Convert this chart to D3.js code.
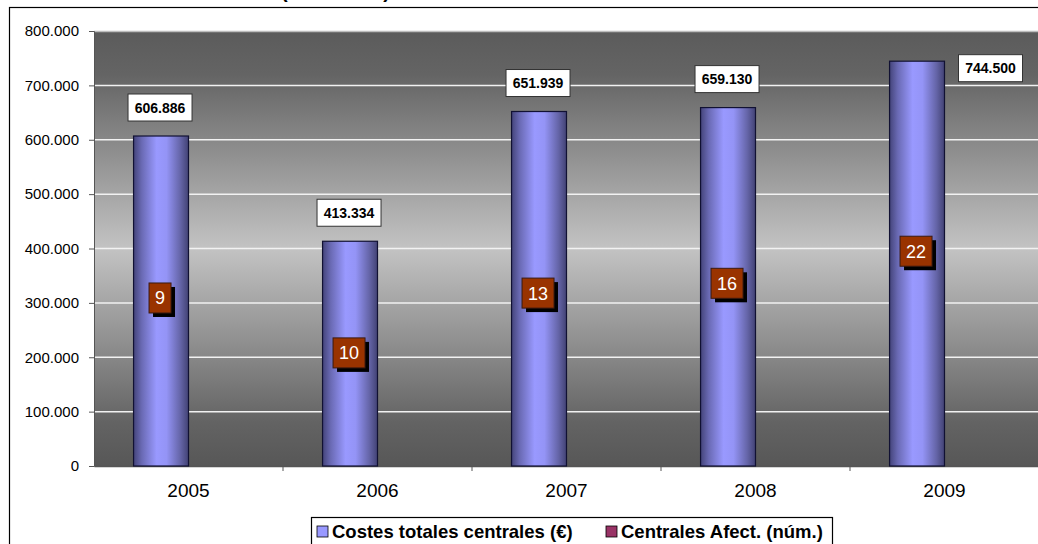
<!DOCTYPE html>
<html>
<head>
<meta charset="utf-8">
<script src="https://cdn.jsdelivr.net/npm/d3@7"></script>
<style>
  body { margin: 0; background: #fff; }
  svg { display: block; font-family: "Liberation Sans", Arial, sans-serif; }
</style>
</head>
<body>
<svg id="chart" width="1038" height="544"></svg>
<script>
// chart data
var years = ["2005", "2006", "2007", "2008", "2009"];
var costes = [606886, 413334, 651939, 659130, 744500];
var centrales = [9, 10, 13, 16, 22];
// where the labels of the second series sit, in axis units
var centralesLabelAt = [309000, 208000, 318000, 336000, 395000];
var yTicks = [0, 100000, 200000, 300000, 400000, 500000, 600000, 700000, 800000];
var seriesNames = ["Costes totales centrales (€)", "Centrales Afect. (núm.)"];

var svg = d3.select("#chart");
var plot = { left: 94, right: 1039, top: 31, bottom: 466 };

// number format with dots as thousands separator
var fmt = d3.formatLocale({ decimal: ",", thousands: ".", grouping: [3], currency: ["", "€"] }).format(",d");

var x = d3.scaleBand().domain(years).range([plot.left, plot.right]);
var xInner = d3.scaleBand().domain([0, 1]).range([0, x.bandwidth()]).paddingOuter(0.72);
var y = d3.scaleLinear().domain([0, 800000]).range([plot.bottom, plot.top]);

var defs = svg.append("defs");

// gray plot background
var bg = defs.append("linearGradient").attr("id", "bg").attr("x1", 0).attr("y1", 0).attr("x2", 0).attr("y2", 1);
[[0, "#5b5b5b"], [0.1, "#646464"], [0.5, "#c3c3c3"], [0.9, "#636363"], [1, "#575757"]].forEach(s => {
  bg.append("stop").attr("offset", s[0]).attr("stop-color", s[1]);
});

// cylinder look for the bars
var barGrad = defs.append("linearGradient").attr("id", "barGrad").attr("x1", 0).attr("y1", 0).attr("x2", 1).attr("y2", 0);
[[0, "#44447a"], [0.15, "#6a6ab4"], [0.42, "#9999ff"], [0.6, "#9494f6"], [0.85, "#6565a8"], [1, "#424274"]].forEach(s => {
  barGrad.append("stop").attr("offset", s[0]).attr("stop-color", s[1]);
});

// title (cut off at the top of the picture)
svg.append("text")
  .attr("x", 390).attr("y", -2)
  .attr("text-anchor", "end")
  .style("font-size", "20px").style("font-weight", "bold")
  .text("Evolución de costes de las centrales (2005-2009)");

// outer chart frame
svg.append("rect")
  .attr("x", 9.5).attr("y", 7.5)
  .attr("width", 1100).attr("height", 600)
  .attr("fill", "none").attr("stroke", "#000").attr("stroke-width", 1.2);

// plot area
svg.append("rect")
  .attr("x", plot.left).attr("y", plot.top)
  .attr("width", plot.right - plot.left).attr("height", plot.bottom - plot.top)
  .attr("fill", "url(#bg)");
svg.append("line")
  .attr("x1", plot.left).attr("x2", plot.right)
  .attr("y1", plot.top + 0.5).attr("y2", plot.top + 0.5)
  .attr("stroke", "#bdbdbd").attr("stroke-width", 1.5);

// gridlines
svg.append("g")
  .selectAll("line")
  .data(yTicks.filter(d => d > 0 && d < 800000))
  .enter().append("line")
  .attr("x1", plot.left).attr("x2", plot.right)
  .attr("y1", d => y(d)).attr("y2", d => y(d))
  .attr("stroke", "#f2f2f2").attr("stroke-width", 1.5);

// y axis
var yAxis = svg.append("g")
  .attr("transform", "translate(" + plot.left + ",0)")
  .call(d3.axisLeft(y).tickValues(yTicks).tickFormat(d => d === 0 ? "0" : fmt(d)).tickSize(5).tickPadding(10));
yAxis.select(".domain").attr("stroke", "#555");
yAxis.selectAll(".tick line").attr("stroke", "#555");
yAxis.selectAll("text").style("font-size", "15px").attr("fill", "#000").attr("font-family", null);

// x axis with ticks between the categories
var xAxis = svg.append("g")
  .attr("transform", "translate(0," + plot.bottom + ")")
  .call(d3.axisBottom(x).tickSize(0).tickPadding(18));
xAxis.select(".domain").attr("stroke", "#555").attr("stroke-width", 1.5);
xAxis.selectAll("text").style("font-size", "19px").attr("fill", "#000").attr("font-family", null);
svg.append("g")
  .selectAll("line")
  .data(years.slice(1))
  .enter().append("line")
  .attr("x1", d => x(d)).attr("x2", d => x(d))
  .attr("y1", plot.bottom).attr("y2", plot.bottom + 5)
  .attr("stroke", "#555");

// bars
var groups = svg.append("g")
  .selectAll("g")
  .data(years)
  .enter().append("g")
  .attr("transform", d => "translate(" + x(d) + ",0)");

groups.append("rect")
  .attr("x", (d, i) => xInner(0))
  .attr("y", (d, i) => y(costes[i]))
  .attr("width", xInner.bandwidth())
  .attr("height", (d, i) => y(0) - y(costes[i]))
  .attr("fill", "url(#barGrad)")
  .attr("stroke", "#111133").attr("stroke-width", 1.2);

groups.append("rect")
  .attr("x", (d, i) => xInner(1))
  .attr("y", (d, i) => y(centrales[i]))
  .attr("width", xInner.bandwidth())
  .attr("height", (d, i) => y(0) - y(centrales[i]))
  .attr("fill", "#993366");

// value labels of the costs
groups.each(function(d, i) {
  var g = d3.select(this);
  var cx = xInner(0) + xInner.bandwidth() / 2 - 1;
  var cy = y(costes[i]) - 15 - 13.5;
  if (cy - 13.5 < plot.top + 10) {
    // no room above: put it on the right of the bar
    cx = xInner(0) + xInner.bandwidth() + 14 + 32;
    cy = y(costes[i]) + 7;
  }
  g.append("rect")
    .attr("x", cx - 32).attr("y", cy - 13.5)
    .attr("width", 64).attr("height", 27)
    .attr("fill", "#fff").attr("stroke", "#333").attr("stroke-width", 1);
  g.append("text")
    .attr("x", cx).attr("y", cy + 5)
    .attr("text-anchor", "middle")
    .style("font-size", "14px").style("font-weight", "bold")
    .text(fmt(costes[i]));
});

// labels of the number of plants
groups.each(function(d, i) {
  var g = d3.select(this);
  var txt = String(centrales[i]);
  var w = txt.length * 10 + 12;
  var cx = xInner(0) + xInner.bandwidth() / 2 - 1;
  var cy = y(centralesLabelAt[i]);
  g.append("rect")
    .attr("x", cx - w / 2 + 4).attr("y", cy - 15 + 4)
    .attr("width", w).attr("height", 30)
    .attr("fill", "#000");
  g.append("rect")
    .attr("x", cx - w / 2).attr("y", cy - 15)
    .attr("width", w).attr("height", 30)
    .attr("fill", "#993300").attr("stroke", "#3a1a10").attr("stroke-width", 1);
  g.append("text")
    .attr("x", cx).attr("y", cy + 6.5)
    .attr("text-anchor", "middle")
    .attr("fill", "#fff")
    .style("font-size", "18px")
    .text(txt);
});

// legend
var legend = svg.append("g").attr("transform", "translate(311,517)");
legend.append("rect")
  .attr("x", 0.5).attr("y", 0.5)
  .attr("width", 521).attr("height", 40)
  .attr("fill", "#fff").attr("stroke", "#000").attr("stroke-width", 1.2);
var legendColors = ["#9999ff", "#993366"];
var legendX = [6, 295];
seriesNames.forEach((name, i) => {
  legend.append("rect")
    .attr("x", legendX[i]).attr("y", 9)
    .attr("width", 11).attr("height", 11)
    .attr("fill", legendColors[i]).attr("stroke", "#000").attr("stroke-width", 0.8);
  legend.append("text")
    .attr("x", legendX[i] + 15).attr("y", 21)
    .style("font-size", "18.5px").style("font-weight", "bold")
    .text(name);
});
</script>
</body>
</html>
